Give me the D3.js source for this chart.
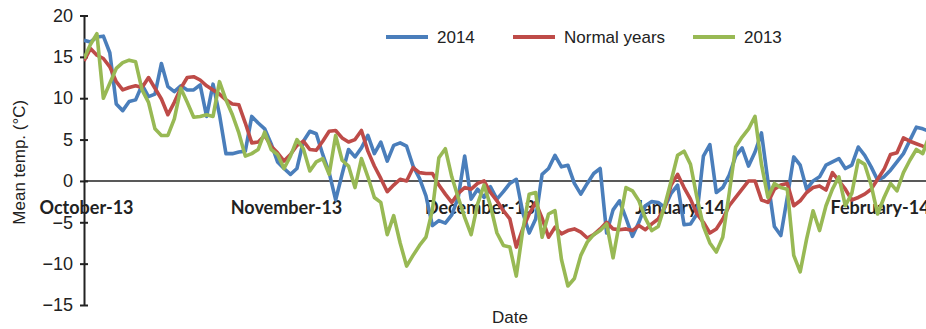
<!DOCTYPE html>
<html>
<head>
<meta charset="utf-8">
<script src="https://cdn.jsdelivr.net/npm/d3@7"></script>
<style>
  html, body { margin: 0; padding: 0; background: #fff; }
  svg { display: block; }
  text { font-family: "Liberation Sans", Arial, sans-serif; fill: #222; }
</style>
</head>
<body>
<svg id="chart" width="926" height="329"></svg>
<script>
// Daily mean temperature, 1 Oct 2013 onwards (one value per day)
const startDate = "2013-10-01";

const temp2014 = [
  17.0, 16.8, 17.4, 17.5, 15.5, 9.3, 8.5, 9.6, 9.8, 11.6,
  10.2, 10.5, 14.2, 11.4, 10.8, 11.5, 11.0, 11.0, 11.6, 7.8,
  11.7, 8.0, 3.3, 3.3, 3.5, 3.6, 7.8, 7.0, 6.3, 4.5,
  2.3, 1.5, 0.8, 1.5, 4.8, 6.0, 5.7, 3.2, 1.0, -2.3,
  0.8, 3.8, 2.9, 4.0, 5.5, 3.3, 4.7, 2.4, 4.3, 4.6,
  4.2, 1.8, 0.3, -1.8, -5.4, -4.8, -5.1, -4.1, -2.0, 3.0,
  -2.2, -1.0, -2.0, -0.7, -2.2, -1.3, -0.3, 0.2, -3.8, -6.3,
  -4.6, 0.8, 1.5, 3.1, 1.7, 1.9, -0.3, -1.6, -0.3, 0.9,
  1.5, -6.3, -3.5, -2.4, -4.5, -6.7, -5.0, -3.0, -2.5, -2.6,
  -3.2, -1.5, -0.5, -5.3, -5.2, -4.0, 3.0, 4.4, -1.4, -0.8,
  0.7, 3.0, 4.0, 1.8, 3.5, 5.8, 0.0, -5.5, -6.6, -2.0,
  2.9, 1.9, -1.0, 0.0, 0.5, 1.9, 2.3, 2.7, 1.5, 1.9,
  4.1, 3.1, 1.7, 0.1, 0.5, 1.3, 2.3, 3.3, 4.9, 6.5,
  6.3, 6.0
];

const tempNormal = [
  14.5, 16.0, 15.2, 14.8, 13.8, 12.0, 11.0, 11.3, 11.5, 11.3,
  12.5, 11.2, 9.9, 8.0, 9.5, 11.2, 12.5, 12.6, 12.2, 11.5,
  11.0, 10.5, 9.8, 9.3, 9.2, 7.0, 4.6, 4.7, 5.5, 4.2,
  3.4, 2.4, 3.2, 4.3, 4.8, 3.8, 3.7, 4.8, 6.0, 6.1,
  5.2, 4.7, 5.0, 6.1, 3.6, 1.8, 0.3, -1.3, -0.5, 0.2,
  0.0, 1.6, 1.0, 0.9, 0.9, -0.5, -1.6, -2.6, -1.5, -0.8,
  -1.0, -0.3, 0.0, -1.4, -2.4, -3.6, -4.6, -8.0, -5.8, -4.0,
  -2.6, -4.5, -6.8, -5.6, -6.4, -6.0, -5.8, -6.2, -6.9, -6.5,
  -5.8, -5.0, -5.8, -5.9, -5.8, -6.0, -5.4, -5.9, -5.2, -4.6,
  -3.2, -0.5, 0.8, -0.8, -2.2, -4.0, -5.0, -6.3, -5.8, -4.6,
  -3.0, -2.0, -1.0, 0.0, 0.0, -2.3, -2.6, -1.0, -0.5, -0.3,
  -3.0, -2.4, -1.4, -0.8, -0.6, -1.1, 1.0, 0.0, -1.0, -2.3,
  -2.0, -1.6, -1.0, 0.2, 1.4, 3.2, 3.4, 5.2, 4.8, 4.5,
  4.2, 4.0
];

const temp2013 = [
  14.8, 16.5, 17.8, 10.0, 11.8, 13.6, 14.3, 14.6, 14.4, 11.0,
  9.5, 6.3, 5.5, 5.5, 7.5, 11.2, 9.5, 7.7, 7.8, 8.0,
  7.8, 12.0, 9.8, 8.0, 5.8, 3.0, 3.3, 3.8, 5.9, 3.8,
  3.2, 1.5, 3.0, 5.0, 3.9, 1.2, 2.3, 2.7, 0.8, 5.5,
  2.5, 1.8, -0.8, 2.7, 0.5, -2.0, -2.6, -6.5, -4.2, -7.5,
  -10.3, -9.0, -7.8, -6.8, -3.5, 2.8, 3.9, 0.5, -2.0, -4.4,
  -6.5, -2.8, -0.5, -3.0, -6.3, -7.8, -8.0, -11.5, -6.0, -1.6,
  -1.4, -6.8, -4.0, -3.6, -9.5, -12.7, -11.8, -9.0, -7.4, -6.5,
  -6.0, -5.2, -9.3, -5.0, -0.8, -1.2, -2.4, -4.5, -6.0, -5.5,
  -3.0, 0.0, 3.1, 3.6, 2.0, -2.0, -5.5, -7.5, -8.6, -6.8,
  -1.5, 4.1, 5.3, 6.3, 7.8, 2.0, -2.0, -0.3, -0.8, -1.0,
  -9.0, -11.0, -7.0, -3.6, -6.0, -3.0, -1.0, 0.5, -3.0, -1.5,
  2.5, 2.0, -0.5, -4.0, -2.0, -0.3, -1.2, 1.0, 2.5, 3.8,
  3.3, 5.5
];

const seriesNames = ["2014", "Normal years", "2013"];
const seriesColors = ["#4A7EBB", "#BE4B48", "#98B954"];

const yTicks = [-15, -10, -5, 0, 5, 10, 15, 20];
const monthStarts = ["2013-10-01", "2013-11-01", "2013-12-01", "2014-01-01", "2014-02-01"];
const monthLabels = ["October-13", "November-13", "December-13", "January-14", "February-14"];

const svg = d3.select("#chart");
const W = 926, H = 329;
const plotLeft = 84, plotRight = 926, plotTop = 15.5, plotBottom = 305;

const parse = d3.utcParse("%Y-%m-%d");
const t0 = parse(startDate);
const dates = d3.utcDay.range(t0, d3.utcDay.offset(t0, temp2014.length));

const x = d3.scaleUtc()
  .domain([t0, new Date(t0.getTime() + 130.5 * 864e5)])
  .range([plotLeft, plotRight]);

const y = d3.scaleLinear().domain([-15, 20]).range([plotBottom, plotTop]);

svg.append("defs").append("clipPath").attr("id", "plot-clip")
  .append("rect").attr("x", plotLeft).attr("y", 0).attr("width", plotRight - plotLeft).attr("height", H);

// zero reference line
svg.append("line")
  .attr("x1", plotLeft).attr("x2", plotRight)
  .attr("y1", y(0)).attr("y2", y(0))
  .attr("stroke", "#222").attr("stroke-width", 1.6);

// month labels under the zero line
const xAxis = d3.axisBottom(x)
  .tickValues(monthStarts.map(parse))
  .tickSize(0)
  .tickPadding(20)
  .tickFormat((d, i) => monthLabels[i]);

const gx = svg.append("g")
  .attr("transform", `translate(2,${y(0)})`)
  .call(xAxis);
gx.select(".domain").remove();
gx.selectAll("text")
  .style("font-family", "Lato, 'Liberation Sans', sans-serif")
  .style("font-weight", "bold")
  .style("font-size", "18px")
  .attr("fill", "#151515");

// y axis with crossing ticks
const yAxis = d3.axisLeft(y)
  .tickValues(yTicks)
  .tickSize(4)
  .tickSizeOuter(0)
  .tickPadding(7)
  .tickFormat(d3.format("d"));

const gy = svg.append("g")
  .attr("transform", `translate(${plotLeft},0)`)
  .call(yAxis);
gy.select(".domain").attr("stroke", "#222").attr("stroke-width", 2);
gy.selectAll(".tick line").attr("x1", 4).attr("stroke", "#222").attr("stroke-width", 2);
gy.selectAll(".tick text")
  .style("font-family", "'Liberation Sans', Arial, sans-serif")
  .style("font-size", "18px")
  .attr("fill", "#222");

// axis titles
svg.append("text")
  .attr("transform", `translate(25,${(plotTop + plotBottom) / 2 + 2}) rotate(-90)`)
  .attr("text-anchor", "middle")
  .style("font-size", "17px")
  .text("Mean temp. (°C)");

svg.append("text")
  .attr("x", 510).attr("y", 323)
  .attr("text-anchor", "middle")
  .style("font-size", "17px")
  .text("Date");

// series lines: 2014 first, normal years, then 2013 on top
const seriesValues = [temp2014, tempNormal, temp2013];
const line = d3.line()
  .x((d, i) => x(dates[i]))
  .y(d => y(d));

const gLines = svg.append("g").attr("clip-path", "url(#plot-clip)");
seriesValues.forEach((vals, k) => {
  gLines.append("path")
    .datum(vals)
    .attr("fill", "none")
    .attr("stroke", seriesColors[k])
    .attr("stroke-width", 3.6)
    .attr("stroke-linejoin", "round")
    .attr("d", line);
});

// legend
const legendX = [386, 513, 693];
const legend = svg.append("g");
seriesNames.forEach((name, k) => {
  legend.append("line")
    .attr("x1", legendX[k]).attr("x2", legendX[k] + 42)
    .attr("y1", 37).attr("y2", 37)
    .attr("stroke", seriesColors[k]).attr("stroke-width", 4);
  legend.append("text")
    .attr("x", legendX[k] + 51).attr("y", 43)
    .style("font-size", "17px")
    .text(name);
});
</script>
</body>
</html>
